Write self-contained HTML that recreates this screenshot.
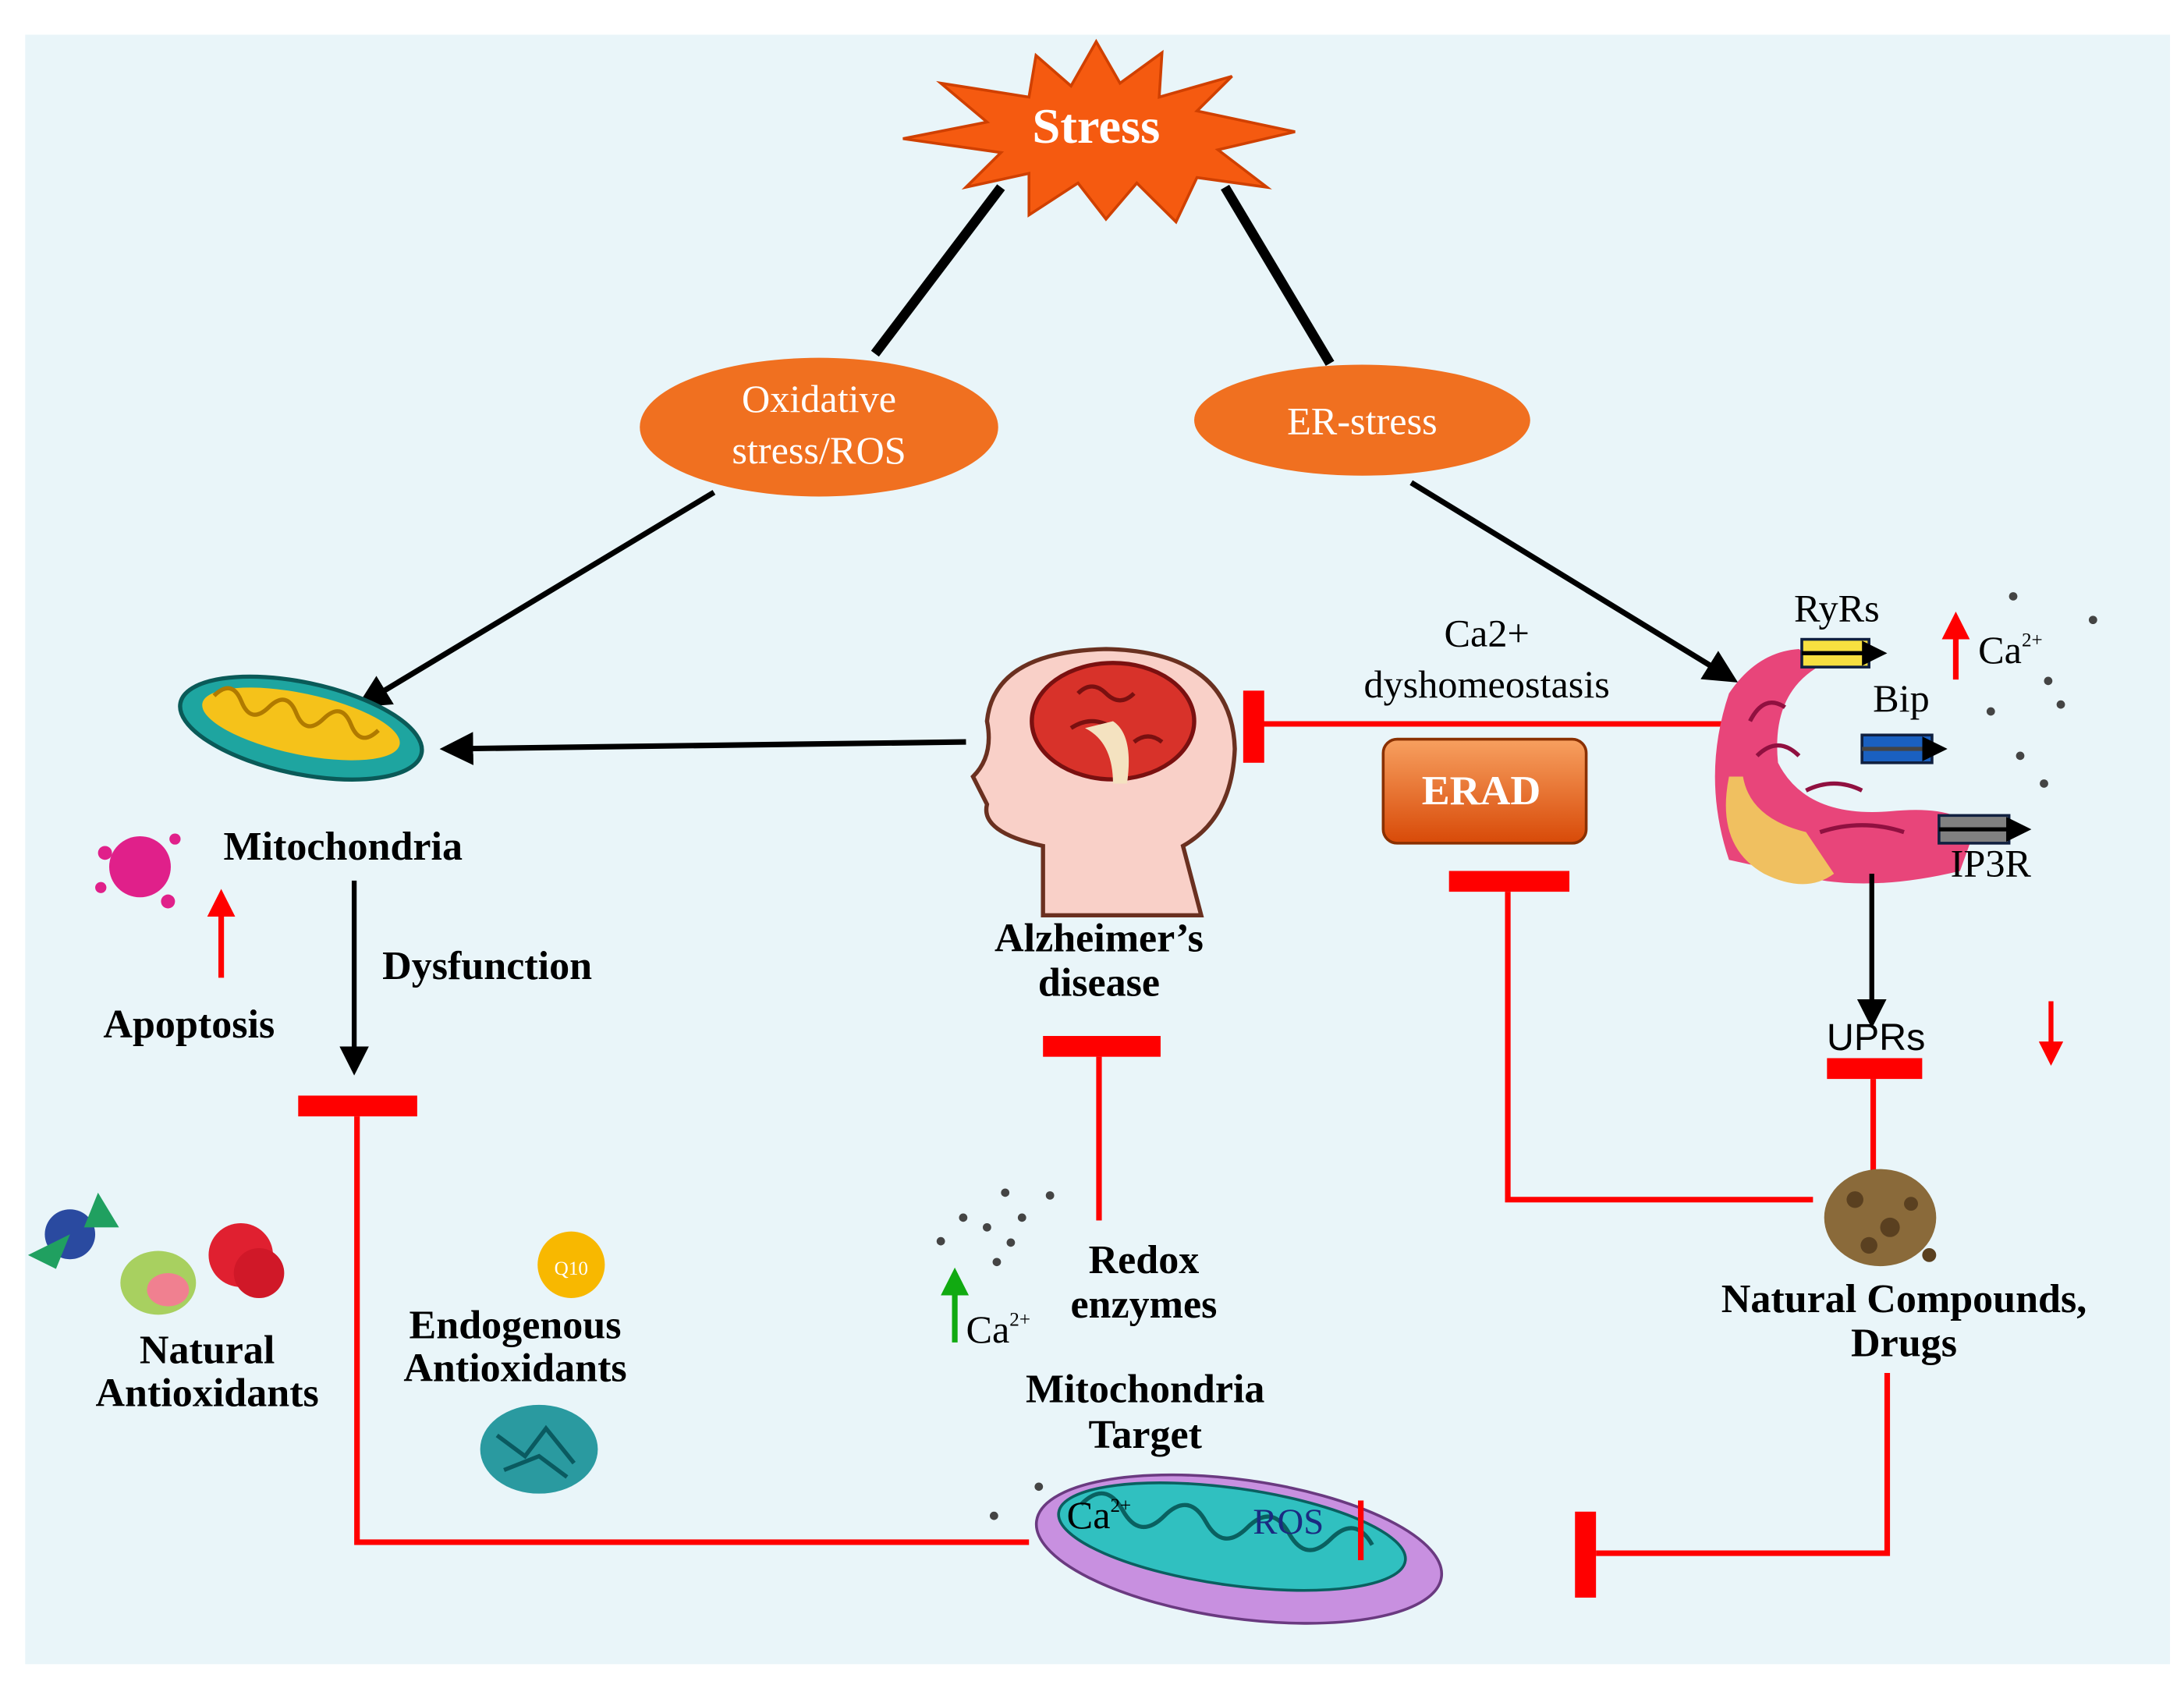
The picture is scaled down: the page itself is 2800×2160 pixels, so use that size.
<!DOCTYPE html>
<html><head><meta charset="utf-8"><style>
html,body{margin:0;padding:0;background:#fff;width:2800px;height:2160px;overflow:hidden}
svg{display:block}
text{font-family:"Liberation Serif",serif}
.b{font-weight:bold;font-size:29px;fill:#000}
.w{fill:#fff;font-size:28px}
</style></head><body>
<svg width="2800" height="2160" viewBox="0 0 1560 1215" preserveAspectRatio="none" xmlns="http://www.w3.org/2000/svg">
<defs>
<marker id="ab" markerWidth="6" markerHeight="6" refX="5" refY="3" orient="auto" markerUnits="strokeWidth"><path d="M0,0 L6,3 L0,6 z" fill="#000"/></marker>
<marker id="ar" markerWidth="5" markerHeight="5" refX="4" refY="2.5" orient="auto" markerUnits="strokeWidth"><path d="M0,0 L5,2.5 L0,5 z" fill="#f00"/></marker>
<marker id="ag" markerWidth="5" markerHeight="5" refX="4" refY="2.5" orient="auto" markerUnits="strokeWidth"><path d="M0,0 L5,2.5 L0,5 z" fill="#1a1"/></marker>
<linearGradient id="erad" x1="0" y1="0" x2="0" y2="1"><stop offset="0" stop-color="#f7a060"/><stop offset="1" stop-color="#d84a08"/></linearGradient>
</defs>
<rect x="0" y="0" width="1560" height="1215" fill="#fff"/>
<rect x="18" y="25" width="1532" height="1175" fill="#e9f5f9"/>

<!-- Stress star -->
<polygon points="783,30 800,60 830,38 828,70 880,55 855,80 925,95 870,108 905,135 855,128 840,160 812,132 790,158 770,132 735,155 735,125 690,135 715,110 645,100 705,88 672,60 735,70 740,40 765,62" fill="#f55a10" stroke="#d04000" stroke-width="2"/>
<text x="783" y="103" text-anchor="middle" font-size="36" font-weight="bold" fill="#fff">Stress</text>

<line x1="715" y1="135" x2="625" y2="255" stroke="#000" stroke-width="7"/>
<line x1="875" y1="135" x2="950" y2="262" stroke="#000" stroke-width="7"/>

<ellipse cx="585" cy="308" rx="128" ry="50" fill="#f07020"/>
<text x="585" y="297" text-anchor="middle" class="w">Oxidative</text>
<text x="585" y="334" text-anchor="middle" class="w">stress/ROS</text>
<ellipse cx="973" cy="303" rx="120" ry="40" fill="#f07020"/>
<text x="973" y="313" text-anchor="middle" class="w">ER-stress</text>

<line x1="510" y1="355" x2="258" y2="508" stroke="#000" stroke-width="4" marker-end="url(#ab)"/>
<line x1="1008" y1="348" x2="1238" y2="490" stroke="#000" stroke-width="4" marker-end="url(#ab)"/>

<!-- mitochondria top-left -->
<ellipse cx="215" cy="525" rx="88" ry="33" transform="rotate(12 215 525)" fill="#1ea5a0" stroke="#0a5a58" stroke-width="3"/>
<ellipse cx="215" cy="522" rx="72" ry="22" transform="rotate(12 215 522)" fill="#f5c21a"/>
<path d="M150,515 q10,-15 20,0 q10,15 20,0 q10,-15 20,0 q10,15 20,0 q10,-15 20,0 q10,15 20,0" fill="none" stroke="#b07a00" stroke-width="3" transform="rotate(12 215 522)"/>
<text x="245" y="620" text-anchor="middle" class="b">Mitochondria</text>
<circle cx="100" cy="625" r="22" fill="#e0208a"/>
<circle cx="75" cy="615" r="5" fill="#e0208a"/><circle cx="125" cy="605" r="4" fill="#e0208a"/><circle cx="120" cy="650" r="5" fill="#e0208a"/><circle cx="72" cy="640" r="4" fill="#e0208a"/>
<line x1="158" y1="705" x2="158" y2="645" stroke="#f00" stroke-width="4" marker-end="url(#ar)"/>
<text x="135" y="748" text-anchor="middle" class="b">Apoptosis</text>
<line x1="253" y1="635" x2="253" y2="772" stroke="#000" stroke-width="3.5" marker-end="url(#ab)"/>
<text x="348" y="706" text-anchor="middle" class="b">Dysfunction</text>

<!-- red T left -->
<rect x="213" y="790" width="85" height="15" fill="#f00"/>
<polyline points="255,805 255,1112 735,1112" fill="none" stroke="#f00" stroke-width="4"/>

<!-- brain head -->
<line x1="690" y1="535" x2="318" y2="540" stroke="#000" stroke-width="4" marker-end="url(#ab)"/>
<path d="M745,660 L745,610 Q700,600 705,580 L695,560 Q710,545 705,520 Q710,470 790,468 Q880,470 882,540 Q880,590 845,610 L858,660 Z" fill="#f9d0c8" stroke="#6a3020" stroke-width="3"/>
<ellipse cx="795" cy="520" rx="58" ry="42" fill="#d8322a" stroke="#7a1010" stroke-width="3"/>
<path d="M770,500 q10,-10 20,0 q10,10 20,0 M765,525 q15,-10 30,0 M810,535 q10,-8 20,0" stroke="#7a1010" stroke-width="3" fill="none"/>
<path d="M795,520 q15,10 10,45 l-10,0 q0,-30 -20,-40 z" fill="#f4e2c0"/>
<text x="785" y="686" text-anchor="middle" class="b">Alzheimer’s</text>
<text x="785" y="718" text-anchor="middle" class="b">disease</text>

<line x1="1240" y1="522" x2="900" y2="522" stroke="#f00" stroke-width="4"/>
<rect x="888" y="498" width="15" height="52" fill="#f00"/>
<text x="1062" y="466" text-anchor="middle" font-size="28" fill="#000">Ca2+</text>
<text x="1062" y="503" text-anchor="middle" font-size="28" fill="#000">dyshomeostasis</text>

<rect x="988" y="533" width="145" height="75" rx="10" fill="url(#erad)" stroke="#8a3000" stroke-width="2"/>
<text x="1058" y="580" text-anchor="middle" font-size="30" font-weight="bold" fill="#fff">ERAD</text>

<!-- ER -->
<path d="M1235,620 Q1215,560 1235,500 Q1255,470 1285,468 L1300,480 Q1265,500 1270,550 Q1290,590 1350,585 Q1400,580 1410,600 L1400,628 Q1330,645 1280,630 Z" fill="#e8457a"/>
<path d="M1235,560 Q1225,610 1260,630 Q1290,645 1310,630 L1290,600 Q1250,590 1245,560 Z" fill="#f0c060"/>
<path d="M1250,520 q10,-20 25,-10 M1255,545 q15,-15 30,0 M1290,570 q20,-10 40,0 M1300,600 q30,-10 60,0" stroke="#901040" stroke-width="3" fill="none"/>
<text x="1312" y="448" text-anchor="middle" font-size="28" fill="#000">RyRs</text>
<rect x="1287" y="461" width="48" height="20" fill="#f8e040" stroke="#102040" stroke-width="2"/><line x1="1287" y1="471" x2="1345" y2="471" stroke="#000" stroke-width="3" marker-end="url(#ab)"/>
<text x="1358" y="513" text-anchor="middle" font-size="28" fill="#000">Bip</text>
<rect x="1330" y="530" width="50" height="20" fill="#1a60c0" stroke="#102040" stroke-width="2"/><line x1="1330" y1="540" x2="1388" y2="540" stroke="#444" stroke-width="3" marker-end="url(#ab)"/>
<rect x="1385" y="588" width="50" height="20" fill="#808080" stroke="#102040" stroke-width="2"/><line x1="1385" y1="598" x2="1448" y2="598" stroke="#000" stroke-width="3" marker-end="url(#ab)"/>
<text x="1422" y="632" text-anchor="middle" font-size="28" fill="#000">IP3R</text>
<line x1="1397" y1="490" x2="1397" y2="445" stroke="#f00" stroke-width="4" marker-end="url(#ar)"/>
<text x="1413" y="478" font-size="28" fill="#000">Ca<tspan font-size="14" dy="-12">2+</tspan></text>
<g fill="#444"><circle cx="1438" cy="430" r="3"/><circle cx="1495" cy="447" r="3"/><circle cx="1463" cy="491" r="3"/><circle cx="1422" cy="513" r="3"/><circle cx="1472" cy="508" r="3"/><circle cx="1443" cy="545" r="3"/><circle cx="1460" cy="565" r="3"/></g>

<line x1="1337" y1="630" x2="1337" y2="738" stroke="#000" stroke-width="3.5" marker-end="url(#ab)"/>
<text x="1340" y="757" text-anchor="middle" font-family="Liberation Sans,sans-serif" font-size="27" fill="#000" style="font-family:'Liberation Sans',sans-serif">UPRs</text>
<line x1="1465" y1="722" x2="1465" y2="765" stroke="#f00" stroke-width="3.5" marker-end="url(#ar)"/>

<rect x="1305" y="763" width="68" height="15" fill="#f00"/>
<line x1="1338" y1="778" x2="1338" y2="860" stroke="#f00" stroke-width="4"/>
<rect x="1035" y="628" width="86" height="15" fill="#f00"/>
<polyline points="1077,643 1077,865 1295,865" fill="none" stroke="#f00" stroke-width="4"/>

<!-- natural compounds -->
<ellipse cx="1343" cy="878" rx="40" ry="35" fill="#8a6a3a"/>
<g fill="#5a4020"><circle cx="1325" cy="865" r="6"/><circle cx="1350" cy="885" r="7"/><circle cx="1365" cy="868" r="5"/><circle cx="1335" cy="898" r="6"/><circle cx="1378" cy="905" r="5"/></g>
<text x="1360" y="946" text-anchor="middle" class="b">Natural Compounds,</text>
<text x="1360" y="978" text-anchor="middle" class="b">Drugs</text>
<polyline points="1348,990 1348,1120 1140,1120" fill="none" stroke="#f00" stroke-width="4"/>
<rect x="1125" y="1090" width="15" height="62" fill="#f00"/>

<!-- redox -->
<rect x="745" y="747" width="84" height="15" fill="#f00"/>
<line x1="785" y1="762" x2="785" y2="880" stroke="#f00" stroke-width="4"/>
<text x="817" y="918" text-anchor="middle" class="b">Redox</text>
<text x="817" y="950" text-anchor="middle" class="b">enzymes</text>
<g fill="#444"><circle cx="718" cy="860" r="3"/><circle cx="750" cy="862" r="3"/><circle cx="730" cy="878" r="3"/><circle cx="688" cy="878" r="3"/><circle cx="705" cy="885" r="3"/><circle cx="722" cy="896" r="3"/><circle cx="672" cy="895" r="3"/><circle cx="712" cy="910" r="3"/></g>
<line x1="682" y1="968" x2="682" y2="918" stroke="#1a1" stroke-width="4" marker-end="url(#ag)"/>
<text x="690" y="968" font-size="28" fill="#000">Ca<tspan font-size="14" dy="-12">2+</tspan></text>
<text x="818" y="1011" text-anchor="middle" class="b">Mitochondria</text>
<text x="818" y="1044" text-anchor="middle" class="b">Target</text>

<!-- bottom mitochondria -->
<ellipse cx="885" cy="1117" rx="146" ry="50" transform="rotate(8 885 1117)" fill="#c890e0" stroke="#6a3a80" stroke-width="2"/>
<ellipse cx="880" cy="1108" rx="125" ry="35" transform="rotate(8 880 1108)" fill="#30c0c0" stroke="#0a6060" stroke-width="2"/>
<path d="M770,1100 q15,-20 30,0 q15,20 30,0 q15,-20 30,0 q15,20 30,0 q15,-20 30,0 q15,20 30,0 q15,-20 30,0" fill="none" stroke="#0a6060" stroke-width="3" transform="rotate(8 880 1108)"/>
<text x="762" y="1102" font-size="28" fill="#000">Ca<tspan font-size="14" dy="-12">2+</tspan></text>
<text x="895" y="1106" font-size="26" fill="#1a2a80">ROS</text>
<line x1="972" y1="1125" x2="972" y2="1082" stroke="#f00" stroke-width="4"/>
<circle cx="710" cy="1093" r="3" fill="#444"/><circle cx="742" cy="1072" r="3" fill="#444"/>

<!-- fruits -->
<circle cx="50" cy="890" r="18" fill="#2a4aa0"/><path d="M20,905 l30,-15 l-10,25 z" fill="#20a060"/><path d="M70,860 l15,25 l-25,0 z" fill="#20a060"/>
<ellipse cx="113" cy="925" rx="27" ry="23" fill="#a8d060"/><ellipse cx="120" cy="930" rx="15" ry="12" fill="#f08090"/>
<circle cx="172" cy="905" r="23" fill="#e02030"/><circle cx="185" cy="918" r="18" fill="#d01828"/>
<text x="148" y="983" text-anchor="middle" class="b">Natural</text>
<text x="148" y="1014" text-anchor="middle" class="b">Antioxidants</text>
<circle cx="408" cy="912" r="24" fill="#f8b800"/><text x="408" y="919" text-anchor="middle" font-size="14" fill="#fff">Q10</text>
<text x="368" y="965" text-anchor="middle" class="b">Endogenous</text>
<text x="368" y="996" text-anchor="middle" class="b">Antioxidants</text>
<ellipse cx="385" cy="1045" rx="42" ry="32" fill="#2a9aa0"/>
<path d="M355,1035 l20,15 l15,-20 l20,25 M360,1060 l25,-10 l20,15" stroke="#0a5a60" stroke-width="3" fill="none"/>
</svg>
</body></html>
